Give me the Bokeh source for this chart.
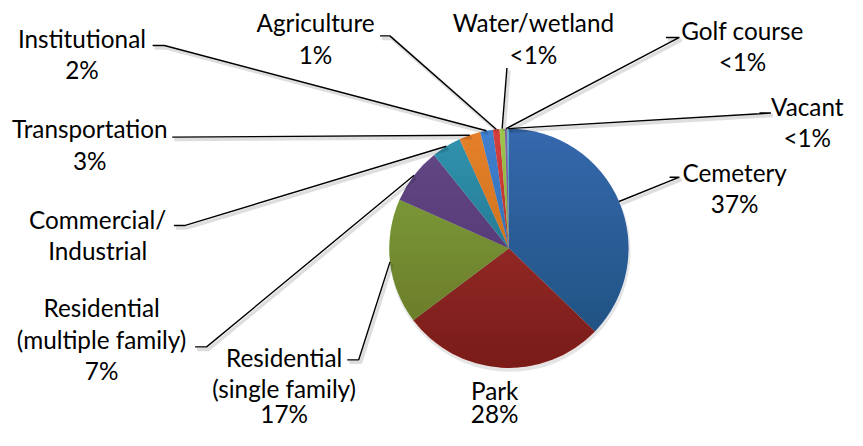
import numpy as np
from bokeh.plotting import figure
from bokeh.models import Range1d
from bokeh.core.properties import value
from bokeh.embed import file_html
from bokeh.resources import INLINE

# ---- data ----
categories = ["Cemetery", "Park", "Residential (single family)", "Residential (multiple family)",
              "Commercial/Industrial", "Transportation", "Institutional", "Agriculture",
              "Water/wetland", "Golf course", "Vacant"]
shares = [37.2, 27.5, 16.9, 7.6, 4.0, 2.9, 1.7, 0.9, 0.7, 0.35, 0.2]
label_lines = [["Cemetery", "37%"], ["Park", "28%"],
               ["Residential", "(single family)", "17%"],
               ["Residential", "(multiple family)", "7%"],
               ["Commercial/", "Industrial"], ["Transportation", "3%"],
               ["Institutional", "2%"], ["Agriculture", "1%"],
               ["Water/wetland", "<1%"], ["Golf course", "<1%"], ["Vacant", "<1%"]]

# ---- style ----
colors = ["#3568AC", "#A93431", "#80A43E", "#64488A", "#3193AE", "#E6802A",
          "#3F7FCF", "#D43F3C", "#9DC54B", "#7F62AA", "#46ADC8"]
W, H = 847, 430
SX, SY = W / 863, H / 446           # design grid -> canvas
S = (SX + SY) / 2
CX, CY, R0 = 518, 257, 123          # design px
FONT = "Lato"
FS = 25 * S
LS = 32.3
# label layout (design px): center x, first line visual center y, anchor, elbow
layout = [
    dict(x=748, y=178.2, anchor=(681.7, 183.3), elbow=(691.7, 183.3)),
    dict(x=503.5, y=404.2, anchor=None, elbow=None),
    dict(x=289, y=369.8, anchor=(353.3, 372.7), elbow=(365, 372.7)),
    dict(x=103, y=318.8, anchor=(198.3, 359.3), elbow=(210, 359.3)),
    dict(x=99, y=227.2, anchor=(176.7, 233.3), elbow=(188.3, 233.3)),
    dict(x=91, y=133.2, anchor=(175, 141.7), elbow=(175, 141.7)),
    dict(x=83, y=39.2, anchor=(155, 46.7), elbow=(167, 46.7)),
    dict(x=321, y=23.2, anchor=(386.7, 36.7), elbow=(396.7, 36.7)),
    dict(x=543, y=23.2, anchor=(516, 70), elbow=(516, 70)),
    dict(x=756, y=30.8, anchor=(678, 38.3), elbow=(691.7, 38.3)),
    dict(x=822, y=109.8, anchor=(773.3, 116.7), elbow=(785, 116.7)),
]


def X(px):
    return px * SX


def Y(py):
    return H - py * SY


p = figure(width=W, height=H, output_backend="svg", toolbar_location=None,
           x_range=Range1d(0, W), y_range=Range1d(0, H), min_border=0,
           x_axis_location=None, y_axis_location=None, outline_line_color=None,
           background_fill_color="white", border_fill_color="white")
p.grid.visible = False

frac = np.array(shares, dtype=float)
frac = frac / frac.sum()
cum = np.concatenate([[0.0], np.cumsum(frac)])
start = np.pi / 2 - 2 * np.pi * cum[:-1]
end = np.pi / 2 - 2 * np.pi * cum[1:]
mid = 2 * np.pi * (cum[:-1] + cum[1:]) / 2   # clockwise from top

cx, cy, R = X(CX), Y(CY), R0 * S

# pie shadow
p.circle(x=[cx + 1], y=[cy - 3], radius=R + 1, fill_color="black",
         fill_alpha=0.10, line_color=None)
p.wedge(x=cx, y=cy, radius=R, start_angle=start, end_angle=end,
        direction="clock", fill_color=colors, line_color=None)

# vertical shading (darker toward the bottom), built from stacked circle segments
N = 24
sx_list, sy_list = [], []
for k in range(N):
    yk = cy + R - (k + 1) * 2 * R / (N + 1)
    s = np.arcsin(np.clip((yk - cy) / R, -1, 1))
    th = np.linspace(np.pi - s, 2 * np.pi + s, 120)
    sx_list.append(list(cx + R * np.cos(th)))
    sy_list.append(list(cy + R * np.sin(th)))
p.patches(xs=sx_list, ys=sy_list, fill_color="black", fill_alpha=0.0075, line_color=None)

# leader lines
xs, ys = [], []
for i, lay in enumerate(layout):
    if lay["anchor"] is None:
        continue
    ex = cx + R * np.sin(mid[i])
    ey = cy + R * np.cos(mid[i])
    pts = [lay["elbow"], lay["anchor"]]
    xs.append([ex] + [X(a) for a, b in pts])
    ys.append([ey] + [Y(b) for a, b in pts])
p.multi_line(xs=[[v + 2 for v in l] for l in xs], ys=[[v - 2.5 for v in l] for l in ys],
             line_color="black", line_alpha=0.13, line_width=3.5)
p.multi_line(xs=xs, ys=ys, line_color="black", line_width=1.4)

# labels
tx, ty, tt = [], [], []
for lines, lay in zip(label_lines, layout):
    for k, s in enumerate(lines):
        tx.append(X(lay["x"]))
        ty.append(max(Y(lay["y"] + k * LS), 17))
        tt.append(s)
p.text(x=tx, y=ty, text=tt, text_align="center", text_baseline="middle",
       text_font=value(FONT), text_font_size=f"{FS:.1f}px", text_color="black")

open("out.html", "w").write(file_html(p, INLINE))
